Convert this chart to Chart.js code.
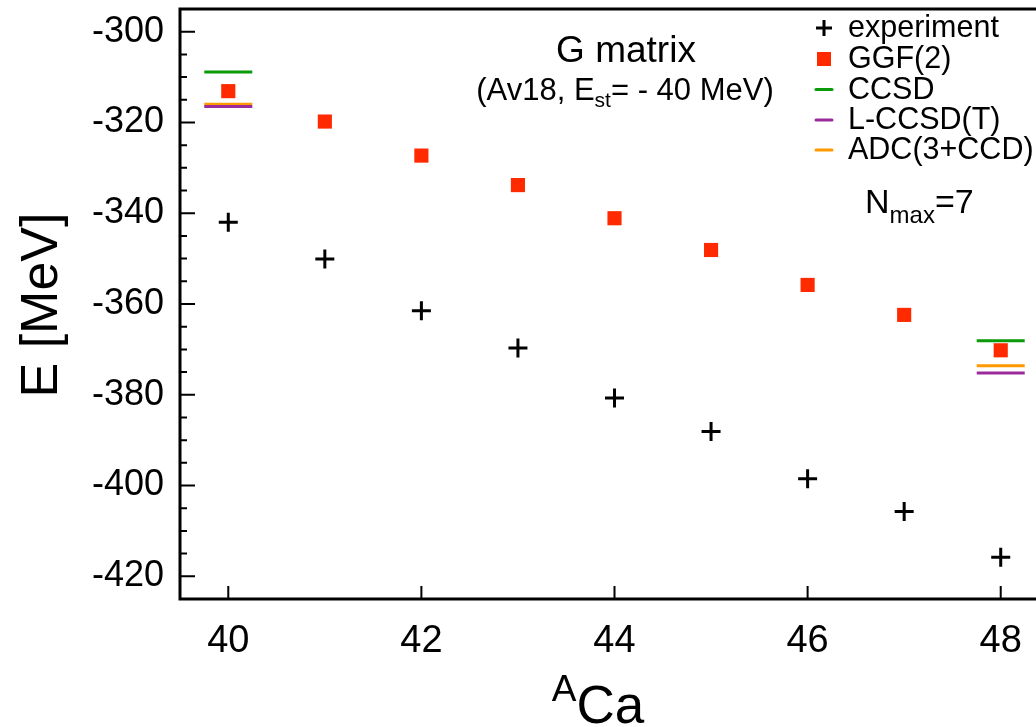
<!DOCTYPE html>
<html>
<head>
<meta charset="utf-8">
<script src="https://cdn.jsdelivr.net/npm/chart.js@4.4.1/dist/chart.umd.min.js"></script>
<style>
html,body{margin:0;padding:0;overflow:hidden;background:#fff;}
#wrap{width:1070px;height:727px;}
</style>
</head>
<body>
<div id="wrap"><canvas id="caChart"></canvas></div>
<script>
// mass numbers A of the Ca isotopes
var masses=[40,41,42,43,44,45,46,47,48];
var experiment=[-342.0,-350.1,-361.5,-369.7,-380.7,-388.1,-398.5,-405.7,-415.8];
var ggf2=[-313.1,-319.8,-327.3,-333.8,-341.1,-348.1,-355.8,-362.4,-370.2];
// coupled cluster / ADC results only for 40Ca and 48Ca
var ccMasses=[40,48];
var ccsd=[-308.9,-368.1];
var lccsdT=[-316.5,-375.2];
var adc=[-316.0,-373.6];

var xTicks=[40,42,44,46,48];
var yTicks=[-420,-400,-380,-360,-340,-320,-300];

var FONT="'Liberation Sans', Arial, Helvetica, sans-serif";

function pts(xs,ys){
    var list=[];
    for(var i=0;i<xs.length;i++){
        list.push({x:xs[i],y:ys[i]});
    }
    return list;
}

var datasets=[
    {label:"experiment",data:pts(masses,experiment),pointStyle:"cross",pointRadius:9.5,
        pointBorderWidth:3,borderColor:"#000",backgroundColor:"#000"},
    {label:"GGF(2)",data:pts(masses,ggf2),pointStyle:"rect",pointRadius:10,
        pointBorderWidth:0,borderColor:"#ff2a00",backgroundColor:"#ff2a00"},
    {label:"CCSD",data:pts(ccMasses,ccsd),pointStyle:"line",pointRadius:24,
        pointBorderWidth:3,borderColor:"#0a9a0a",backgroundColor:"#0a9a0a"},
    {label:"L-CCSD(T)",data:pts(ccMasses,lccsdT),pointStyle:"line",pointRadius:24,
        pointBorderWidth:3,borderColor:"#9b2b9b",backgroundColor:"#9b2b9b"},
    {label:"ADC(3+CCD)",data:pts(ccMasses,adc),pointStyle:"line",pointRadius:24,
        pointBorderWidth:3,borderColor:"#ff9900",backgroundColor:"#ff9900"}
];

// scales must not push the plot frame around
function noPadding(){
    return {left:0,top:0,right:0,bottom:0};
}

// draw the legend marker for one dataset
function legendMark(ctx,ds,x,y){
    ctx.save();
    ctx.strokeStyle=ds.borderColor;
    ctx.fillStyle=ds.backgroundColor;
    ctx.lineWidth=3;
    ctx.beginPath();
    if(ds.pointStyle=="cross"){
        ctx.moveTo(x-8,y);ctx.lineTo(x+8,y);
        ctx.moveTo(x,y-8);ctx.lineTo(x,y+8);
        ctx.stroke();
    }else if(ds.pointStyle=="rect"){
        ctx.fillRect(x-7,y-7,14,14);
    }else{
        ctx.lineCap="round";
        ctx.moveTo(x-8,y);ctx.lineTo(x+8,y);
        ctx.stroke();
    }
    ctx.restore();
}

// text with a sub/superscript part: parts = [[text,size,dy],...]
function richText(ctx,parts,x,y,align){
    var total=0,i;
    for(i=0;i<parts.length;i++){
        ctx.font=parts[i][1]+"px "+FONT;
        total+=ctx.measureText(parts[i][0]).width;
    }
    var cx=align=="center"?x-total/2:x;
    ctx.textAlign="left";
    ctx.textBaseline="alphabetic";
    for(i=0;i<parts.length;i++){
        ctx.font=parts[i][1]+"px "+FONT;
        ctx.fillText(parts[i][0],cx,y+parts[i][2]);
        cx+=ctx.measureText(parts[i][0]).width;
    }
}

var framePlugin={
    id:"frame",
    afterDraw:function(chart){
        var ctx=chart.ctx;
        var a=chart.chartArea;
        var xs=chart.scales.x,ys=chart.scales.y;
        ctx.save();
        ctx.strokeStyle="#000";
        ctx.lineWidth=3;
        ctx.strokeRect(a.left,a.top,a.right-a.left,a.bottom-a.top);
        // inward ticks
        ctx.lineWidth=2;
        ctx.beginPath();
        for(var v=-425;v<=-295;v+=5){
            var py=ys.getPixelForValue(v);
            if(py<a.top+3||py>a.bottom-3)continue;
            var len=(v%20==0)?15:7;
            ctx.moveTo(a.left,py);ctx.lineTo(a.left+len,py);
        }
        for(var i=0;i<xTicks.length;i++){
            var px=xs.getPixelForValue(xTicks[i]);
            ctx.moveTo(px,a.bottom);ctx.lineTo(px,a.bottom-13);
        }
        ctx.stroke();

        ctx.fillStyle="#000";
        // axis titles
        richText(ctx,[["A",37,-22],["Ca",53,0]],598,723,"center");
        ctx.save();
        ctx.translate(57,305);
        ctx.rotate(-Math.PI/2);
        ctx.font="52px "+FONT;
        ctx.textAlign="center";
        ctx.textBaseline="alphabetic";
        ctx.fillText("E [MeV]",0,0);
        ctx.restore();

        // annotations
        richText(ctx,[["G matrix",37,0]],626,62,"center");
        richText(ctx,[["(Av18, E",31,0],["st",21,7],["= - 40 MeV)",31,0]],625,100,"center");
        richText(ctx,[["N",34,0],["max",24,10],["=7",34,0]],865,213,"left");

        // legend
        var rows=[28,59,89.5,120,150];
        for(var k=0;k<chart.data.datasets.length;k++){
            var ds=chart.data.datasets[k];
            legendMark(ctx,ds,824,rows[k]);
            ctx.fillStyle="#000";
            ctx.font="30.5px "+FONT;
            ctx.textAlign="left";
            ctx.textBaseline="middle";
            ctx.fillText(ds.label,848,rows[k]+1);
        }
        ctx.restore();
    }
};

var caChart=new Chart(document.getElementById("caChart"),{
    type:"scatter",
    data:{datasets:datasets},
    options:{
        responsive:true,
        maintainAspectRatio:false,
        animation:false,
        layout:{autoPadding:false,padding:{top:9,right:21,left:0,bottom:0}},
        plugins:{legend:{display:false},tooltip:{enabled:false}},
        scales:{
            x:{
                type:"linear",min:39.5,max:48.5,
                grid:{display:false,drawTicks:false},
                border:{display:false},
                afterBuildTicks:function(s){s.ticks=xTicks.map(function(v){return {value:v};});},
                afterFit:function(s){s.height=128;s.getPadding=noPadding;},
                ticks:{color:"#000",padding:20,maxRotation:0,font:{size:38,family:FONT}}
            },
            y:{
                type:"linear",min:-425,max:-295,
                grid:{display:false,drawTicks:false},
                border:{display:false},
                afterBuildTicks:function(s){s.ticks=yTicks.map(function(v){return {value:v};});},
                afterFit:function(s){s.width=180;s.getPadding=noPadding;},
                ticks:{color:"#000",padding:16,font:{size:36,family:FONT}}
            }
        }
    },
    plugins:[framePlugin]
});
</script>
</body>
</html>
